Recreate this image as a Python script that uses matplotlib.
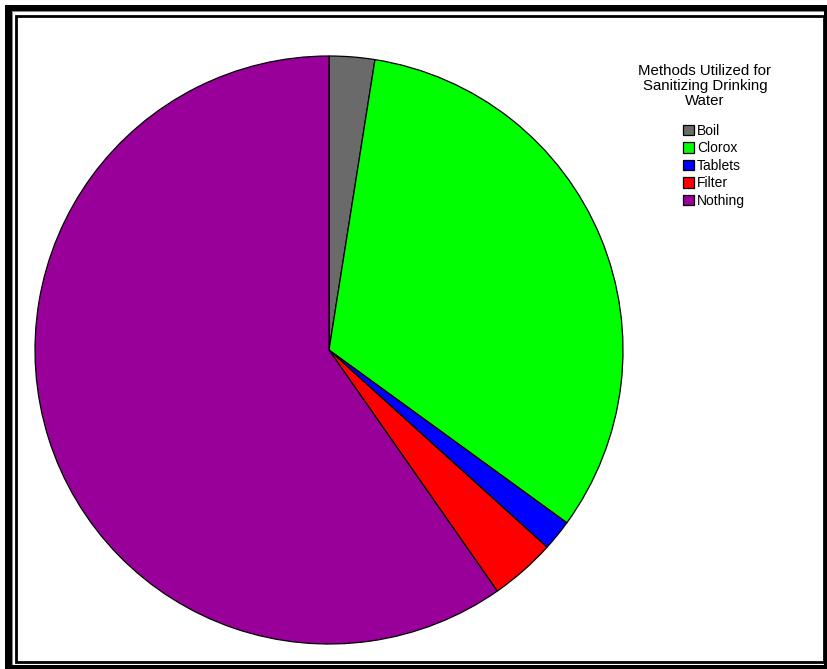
import matplotlib.pyplot as plt
from matplotlib.patches import Rectangle

plt.rcParams['font.family'] = ['Liberation Sans', 'DejaVu Sans']

# share of households by method
methods = ['Boil', 'Clorox', 'Tablets', 'Filter', 'Nothing']
shares = [2.5, 32.5, 1.7, 3.6, 59.7]
colors = ['#6a6a6a', '#00ff00', '#0000ff', '#ff0000', '#990099']
legend_title = 'Methods Utilized for\nSanitizing Drinking\nWater'

W, H = 827, 669
fig = plt.figure(figsize=(W / 100, H / 100), dpi=100)

# background axes in pixel coords for the frame
bg = fig.add_axes([0, 0, 1, 1])
bg.set_xlim(0, W)
bg.set_ylim(H, 0)
bg.axis('off')
# thick outer frame
bg.add_patch(Rectangle((5, 5), 7, H - 5, color='black', lw=0))
bg.add_patch(Rectangle((5, 5), W - 5, 6, color='black', lw=0))
bg.add_patch(Rectangle((5, 665), W - 5, 4, color='black', lw=0))
bg.add_patch(Rectangle((824, 5), 3, H - 5, color='black', lw=0))
bg.add_patch(Rectangle((12, 11), 1.2, 654, color='#888888', lw=0))
bg.add_patch(Rectangle((12, 11), 812, 1.2, color='#888888', lw=0))
# thin inner frame
bg.add_patch(Rectangle((15.5, 15.5), 808.5, 646, fill=False, ec='black', lw=2))

# legend title, centred above the entries
bg.text(705, 64, legend_title, ha='center', va='top', fontsize=10.8,
        linespacing=1.08, multialignment='center')

# pie axes: centre (329, 350), radius 294 px
cx, cy, r = 329, 350, 294
ax = fig.add_axes([(cx - r) / W, (H - cy - r) / H, 2 * r / W, 2 * r / H])
wedges, _ = ax.pie(shares, colors=colors, startangle=90, counterclock=False,
                   radius=1, wedgeprops=dict(edgecolor='black', linewidth=0.9))
ax.set_xlim(-1, 1)
ax.set_ylim(-1, 1)
ax.set_aspect('auto')
ax.axis('off')

leg = fig.legend(wedges, methods, loc='upper left',
                 bbox_to_anchor=(683 / W, 1 - 124 / H), frameon=False,
                 fontsize=10, handlelength=0.8, handleheight=0.8,
                 handletextpad=0.2, labelspacing=0.25, borderpad=0,
                 borderaxespad=0)

fig.savefig('out.png', dpi=100)
